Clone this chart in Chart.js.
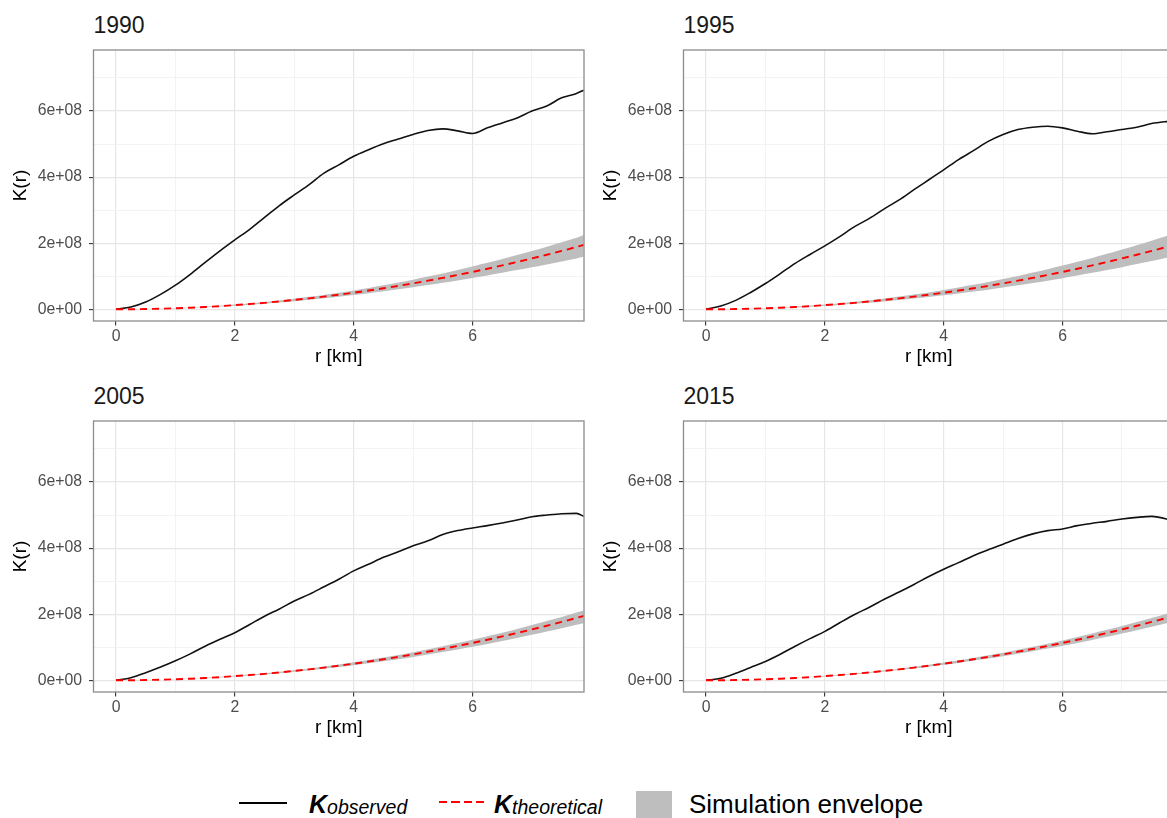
<!DOCTYPE html>
<html>
<head>
<meta charset="utf-8">
<script src="https://cdn.jsdelivr.net/npm/chart.js@4.4.1/dist/chart.umd.min.js"></script>
<style>
    html, body { margin: 0; padding: 0; background: #fff; }
    body { width: 1167px; height: 818px; overflow: hidden; position: relative; font-family: 'Liberation Sans', Arial, sans-serif; }
    canvas.panel { position: absolute; }
    .ptitle { position: absolute; font-size: 23px; line-height: 23px; color: #1a1a1a; white-space: nowrap; }
    .lg { position: absolute; white-space: nowrap; color: #000; }
    .lg-k { font-size: 25px; line-height: 25px; font-weight: bold; font-style: italic; }
    .lg-k span { font-size: 19.5px; font-weight: normal; vertical-align: -1px; }
    .lg-txt { font-size: 26px; line-height: 26px; }
</style>
</head>
<body>
<script>
(function () {
    const years = ['1990', '1995', '2005', '2015'];

    // r in km, K values in units of 1e8
    const rKm = [0, 0.25, 0.5, 0.75, 1, 1.25, 1.5, 1.75, 2, 2.25, 2.5, 2.75, 3, 3.25, 3.5, 3.75,
        4, 4.25, 4.5, 4.75, 5, 5.25, 5.5, 5.75, 6, 6.25, 6.5, 6.75, 7, 7.25, 7.5, 7.75, 7.87];

    const kTheoretical = [0, .002, .008, .018, .031, .049, .071, .096, .126, .159, .196, .238, .283, .332, .385, .442,
        .503, .567, .636, .709, .785, .866, .950, 1.039, 1.131, 1.227, 1.327, 1.431, 1.539, 1.651, 1.767, 1.887, 1.946];

    const obs1990 = [0, .07, .22, .45, .73, 1.06, 1.42, 1.77, 2.10, 2.42, 2.78, 3.14, 3.46, 3.77, 4.12, 4.37,
        4.63, 4.83, 5.01, 5.15, 5.29, 5.41, 5.46, 5.40, 5.32, 5.49, 5.64, 5.79, 6.00, 6.15, 6.40, 6.53, 6.63];
    const obs1995 = [0, .10, .27, .51, .78, 1.08, 1.39, 1.66, 1.92, 2.20, 2.50, 2.75, 3.04, 3.31, 3.62, 3.92,
        4.22, 4.53, 4.80, 5.08, 5.29, 5.44, 5.51, 5.54, 5.49, 5.39, 5.31, 5.37, 5.44, 5.51, 5.62, 5.68, 5.70];
    const obs2005 = [0, .08, .23, .40, .59, .80, 1.03, 1.24, 1.44, 1.69, 1.94, 2.16, 2.40, 2.60, 2.83, 3.06,
        3.31, 3.51, 3.72, 3.89, 4.07, 4.22, 4.41, 4.53, 4.61, 4.68, 4.76, 4.85, 4.95, 5.00, 5.04, 5.05, 4.96];
    const obs2015 = [0, .06, .21, .39, .57, .79, 1.03, 1.26, 1.48, 1.74, 1.99, 2.21, 2.45, 2.67, 2.90, 3.14,
        3.36, 3.56, 3.77, 3.95, 4.12, 4.29, 4.43, 4.53, 4.58, 4.68, 4.75, 4.81, 4.88, 4.93, 4.96, 4.88, 4.80];

    const envHi1990 = [0, .003, .010, .022, .037, .057, .082, .110, .143, .180, .222, .269, .320, .376, .436, .501,
        .571, .645, .724, .808, .896, .989, 1.086, 1.188, 1.295, 1.405, 1.520, 1.640, 1.765, 1.894, 2.028, 2.166, 2.250];
    const envLo1990 = [0, .001, .006, .014, .026, .041, .060, .082, .108, .137, .170, .206, .245, .287, .333, .382,
        .434, .488, .546, .606, .668, .734, .802, .874, .948, 1.024, 1.104, 1.186, 1.270, 1.357, 1.447, 1.540, 1.590];
    const envHi1995 = [0, .003, .010, .022, .038, .058, .083, .112, .146, .184, .227, .275, .327, .384, .446, .512,
        .583, .659, .740, .826, .916, 1.011, 1.111, 1.215, 1.324, 1.437, 1.555, 1.678, 1.806, 1.938, 2.075, 2.216, 2.290];
    const envLo1995 = [0, .001, .006, .014, .025, .040, .058, .080, .105, .133, .165, .200, .238, .280, .325, .373,
        .424, .478, .535, .595, .658, .724, .793, .866, .942, 1.021, 1.103, 1.188, 1.276, 1.367, 1.462, 1.560, 1.610];
    const envHi2005 = [0, .002, .009, .020, .034, .053, .077, .104, .136, .172, .212, .257, .306, .359, .416, .478,
        .544, .614, .689, .768, .851, .938, 1.030, 1.126, 1.226, 1.330, 1.439, 1.552, 1.670, 1.792, 1.918, 2.048, 2.110];
    const envLo2005 = [0, .002, .007, .016, .028, .044, .064, .087, .114, .144, .178, .216, .257, .302, .350, .401,
        .456, .514, .576, .640, .708, .780, .855, .934, 1.016, 1.102, 1.190, 1.282, 1.377, 1.475, 1.576, 1.680, 1.730];
    const envHi2015 = [0, .002, .009, .019, .034, .053, .076, .103, .134, .170, .210, .253, .301, .353, .410, .470,
        .535, .604, .677, .755, .837, .923, 1.013, 1.107, 1.206, 1.309, 1.416, 1.527, 1.643, 1.763, 1.887, 2.015, 2.080];
    const envLo2015 = [0, .002, .007, .017, .029, .045, .066, .089, .117, .148, .182, .221, .263, .309, .358, .411,
        .467, .527, .590, .657, .727, .801, .878, .959, 1.043, 1.131, 1.222, 1.317, 1.415, 1.516, 1.620, 1.727, 1.780];

    const xTickValues = [0, 1, 2, 3, 4, 5, 6, 7];
    const xTickLabels = ['0', '', '2', '', '4', '', '6', ''];
    const yTickValues = [0, 1, 2, 3, 4, 5, 6, 7];
    const yTickLabels = ['0e+00', '', '2e+08', '', '4e+08', '', '6e+08', ''];

    const series = [
        {obs: obs1990, lo: envLo1990, hi: envHi1990},
        {obs: obs1995, lo: envLo1995, hi: envHi1995},
        {obs: obs2005, lo: envLo2005, hi: envHi2005},
        {obs: obs2015, lo: envLo2015, hi: envHi2015}
    ];

    Chart.defaults.font.family = "'Liberation Sans', Arial, sans-serif";

    const pts = ys => rKm.map((r, i) => ({x: r, y: ys[i]}));
    const isMinor = c => c.tick && c.tick.value % 2 !== 0;

    const panelBorder = {
        id: 'panelBorder',
        afterDraw(chart) {
            const {ctx, chartArea: a} = chart;
            ctx.save();
            ctx.strokeStyle = '#8c8c8c';
            ctx.lineWidth = 1.3;
            ctx.strokeRect(a.left, a.top, a.right - a.left, a.bottom - a.top);
            ctx.restore();
        }
    };

    function grid() {
        return {
            color: c => isMinor(c) ? '#f0f0f0' : '#e6e6e6',
            lineWidth: c => isMinor(c) ? 0.8 : 1.2,
            tickColor: c => isMinor(c) ? 'rgba(0,0,0,0)' : '#333',
            tickWidth: 1.1,
            tickLength: 4.5
        };
    }

    const tickFont = {size: 15.8};
    const titleFont = {size: 19};

    years.forEach((year, i) => {
        const col = i % 2, row = Math.floor(i / 2);
        const left = col * 590, top = 40 + row * 371;

        const cv = document.createElement('canvas');
        cv.className = 'panel';
        cv.width = 590;
        cv.height = 340;
        cv.style.left = left + 'px';
        cv.style.top = top + 'px';
        document.body.appendChild(cv);

        const t = document.createElement('div');
        t.className = 'ptitle';
        t.textContent = year;
        t.style.left = (left + 93.5) + 'px';
        t.style.top = (13.8 + row * 371) + 'px';
        document.body.appendChild(t);

        const s = series[i];
        new Chart(cv, {
            type: 'line',
            data: {
                datasets: [
                    {data: pts(s.lo), borderWidth: 0, pointRadius: 0, fill: false,
                        cubicInterpolationMode: 'monotone', order: 3},
                    {data: pts(s.hi), borderWidth: 0, pointRadius: 0, fill: '-1', backgroundColor: '#bebebe',
                        cubicInterpolationMode: 'monotone', order: 2},
                    {data: pts(s.obs), borderColor: '#111', borderWidth: 1.6, pointRadius: 0,
                        cubicInterpolationMode: 'monotone', order: 1},
                    {data: pts(kTheoretical), borderColor: '#ff0000', borderWidth: 1.9, borderDash: [7, 5],
                        pointRadius: 0, cubicInterpolationMode: 'monotone', order: 0}
                ]
            },
            options: {
                responsive: false,
                animation: false,
                layout: {padding: {top: 10, right: 6, left: 0, bottom: 0}},
                plugins: {legend: {display: false}, tooltip: {enabled: false}},
                scales: {
                    x: {
                        type: 'linear', min: -0.379, max: 7.876,
                        afterBuildTicks: a => { a.ticks = xTickValues.map(v => ({value: v})); },
                        afterFit: a => { a.height = 59; a.paddingLeft = 0; a.paddingRight = 0; },
                        grid: grid(),
                        border: {display: false},
                        ticks: {
                            autoSkip: false, maxRotation: 0, padding: 2, color: '#4d4d4d', font: tickFont,
                            callback: (v, idx) => xTickLabels[idx]
                        },
                        title: {display: true, text: 'r [km]', color: '#000', font: titleFont, padding: {top: 0, bottom: 12}}
                    },
                    y: {
                        type: 'linear', min: -0.354, max: 7.846,
                        afterBuildTicks: a => { a.ticks = yTickValues.map(v => ({value: v})); },
                        afterFit: a => { a.width = 93.5; a.paddingTop = 0; a.paddingBottom = 0; },
                        grid: grid(),
                        border: {display: false},
                        ticks: {
                            autoSkip: false, padding: 7, color: '#4d4d4d', font: tickFont,
                            callback: (v, idx) => yTickLabels[idx]
                        },
                        title: {display: true, text: 'K(r)', color: '#000', font: titleFont, padding: {top: 9.5, bottom: 0}}
                    }
                }
            },
            plugins: [panelBorder]
        });
    });
})();
</script>

<!-- legend -->
<div class="lg" style="left:239px; top:802px; width:48px; height:0; border-top:2px solid #000;"></div>
<div class="lg lg-k" style="left:309px; top:792px;">K<span>observed</span></div>
<div class="lg" style="left:439px; top:801px; width:45px; height:2px;
     background: repeating-linear-gradient(to right, #ff0000 0 8.5px, transparent 8.5px 12.3px);"></div>
<div class="lg lg-k" style="left:494px; top:792px;">K<span>theoretical</span></div>
<div class="lg" style="left:636px; top:790.5px; width:36px; height:36px; background:#bebebe;"></div>
<div class="lg lg-txt" style="left:689px; top:791.3px;">Simulation envelope</div>
</body>
</html>
